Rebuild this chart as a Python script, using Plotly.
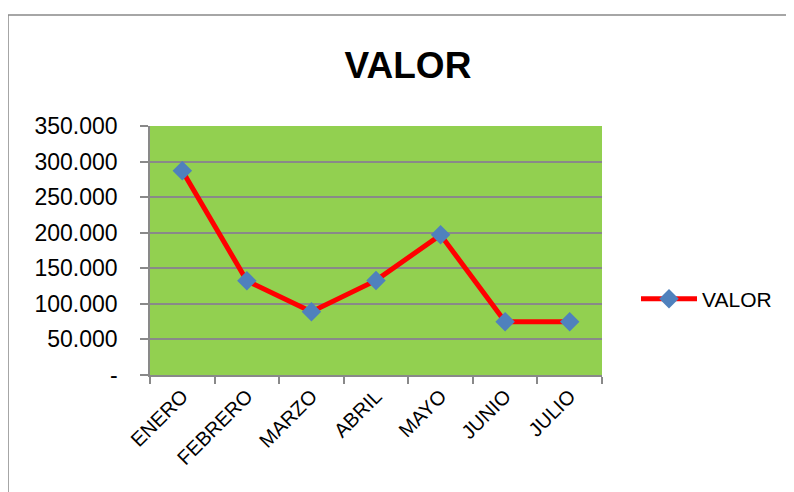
import plotly.graph_objects as go

months = ["ENERO", "FEBRERO", "MARZO", "ABRIL", "MAYO", "JUNIO", "JULIO"]
valor = [287000, 132500, 89000, 133000, 197000, 75000, 75000]
y_tickvals = [0, 50000, 100000, 150000, 200000, 250000, 300000, 350000]
y_ticktext = ["-", "50.000", "100.000", "150.000", "200.000", "250.000", "300.000", "350.000"]

FONT = "Liberation Sans, Arial, sans-serif"
GRID = "#898989"

fig = go.Figure()
fig.add_trace(go.Scatter(
    x=months, y=valor, name="VALOR", mode="lines+markers",
    line=dict(color="#FF0000", width=5),
    marker=dict(symbol="diamond", size=15, color="#4F81BD"),
))

# page body has an 8px margin; work in screen coords minus 8
OFF = 8
W, H = 794 - OFF, 492 - OFF
L, R, T, B = 150 - OFF, 602 - OFF, 126 - OFF, 375 - OFF
pw, ph = R - L, B - T

def px(x):
    return (x - OFF - L) / pw

def py(y):
    return (B - (y - OFF)) / ph

fig.update_layout(
    width=W, height=H,
    margin=dict(l=L, r=W - R, t=T, b=H - B),
    paper_bgcolor="white", plot_bgcolor="#92D050",
    font=dict(family=FONT, color="black"),
    title=dict(text="<b>VALOR</b>", x=(408 - OFF) / W, xref="container", xanchor="center",
               y=1 - (65 - OFF) / H, yref="container", yanchor="middle",
               font=dict(size=37, family=FONT, color="black")),
    showlegend=True,
    legend=dict(x=px(636), y=py(299), xref="paper", yref="paper",
                xanchor="left", yanchor="middle",
                font=dict(size=21, family=FONT), bgcolor="rgba(0,0,0,0)",
                itemwidth=56),
    xaxis=dict(
        range=[-0.5, 6.5], type="category", tickangle=-45,
        tickson="boundaries", ticks="outside", ticklen=7, tickcolor=GRID, tickwidth=1.5,
        showline=True, linecolor=GRID, linewidth=1.5, showgrid=False,
        tickfont=dict(size=20, family=FONT), zeroline=False,
    ),
    yaxis=dict(
        range=[0, 350000], tickvals=y_tickvals, ticktext=y_ticktext,
        ticks="outside", ticklen=8, tickcolor=GRID, tickwidth=1.5,
        showline=True, linecolor=GRID, linewidth=1.5,
        showgrid=True, gridcolor=GRID, gridwidth=1.5, zeroline=False,
        tickfont=dict(size=23, family=FONT), ticklabelstandoff=18,
    ),
    shapes=[
        dict(type="line", xref="paper", yref="paper", x0=px(8), x1=px(8), y0=py(15), y1=py(520),
             line=dict(color="#888888", width=1.5)),
        dict(type="line", xref="paper", yref="paper", x0=px(8), x1=px(820), y0=py(15), y1=py(15),
             line=dict(color="#888888", width=1.5)),
    ],
)

fig.write_html("out.html")
